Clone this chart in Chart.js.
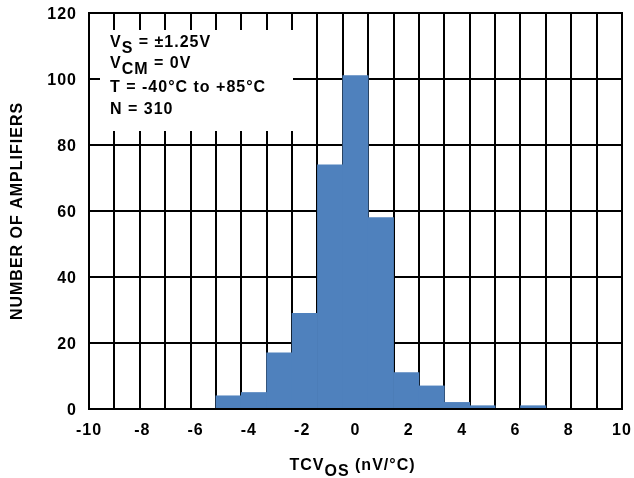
<!DOCTYPE html>
<html>
<head>
<meta charset="utf-8">
<script src="https://cdn.jsdelivr.net/npm/chart.js@4/dist/chart.umd.min.js"></script>
<style>
  html, body { margin: 0; padding: 0; background: #fff; }
  #c { display: block; }
</style>
</head>
<body>
<canvas id="c" width="634" height="478"></canvas>
<script>
// Histogram bins (bin centre, nV/°C) and amplifier counts per bin
const binCenters = [-10, -9, -8, -7, -6, -5, -4, -3, -2, -1, 0, 1, 2, 3, 4, 5, 6, 7, 8, 9, 10];
const counts     = [  0,  0,  0,  0,  0,  4,  5, 17, 29, 74, 101, 58, 11, 7, 2, 1, 0, 1, 0, 0, 0];

// Axis tick labels
const xTickValues = [-10, -8, -6, -4, -2, 0, 2, 4, 6, 8, 10];
const yTickValues = [0, 20, 40, 60, 80, 100, 120];

// Test conditions legend (segments flagged "sub" are subscripts)
const conditionLines = [
  [{ t: 'V' }, { t: 'S', sub: true }, { t: ' = ±1.25V' }],
  [{ t: 'V' }, { t: 'CM', sub: true }, { t: ' = 0V' }],
  [{ t: 'T = -40°C to +85°C' }],
  [{ t: 'N = 310' }]
];
const xTitle = [{ t: 'TCV' }, { t: 'OS', sub: true }, { t: ' (nV/°C)' }];
const yTitle = 'NUMBER OF AMPLIFIERS';

const FONT = '"Liberation Sans", Arial, Helvetica, sans-serif';
const BAR_COLOR = '#4F81BD';

function drawRich(ctx, segments, x, y, align) {
  let total = 0;
  segments.forEach(s => { total += ctx.measureText(s.t).width; });
  let cx = align === 'center' ? x - total / 2 : x;
  ctx.textAlign = 'left';
  ctx.textBaseline = 'alphabetic';
  segments.forEach(s => {
    ctx.fillText(s.t, cx, y + (s.sub ? 6 : 0));
    cx += ctx.measureText(s.t).width;
  });
}

const annotations = {
  id: 'annotations',
  beforeDraw(chart) {
    chart.ctx.letterSpacing = '1px';
  },
  beforeDatasetsDraw(chart) {
    const { ctx, chartArea: a } = chart;
    ctx.save();
    // white panel for the test conditions
    ctx.fillStyle = '#fff';
    ctx.fillRect(a.left + 11, a.top + 17, 193, 101);
    ctx.fillStyle = '#000';
    ctx.font = 'bold 16px ' + FONT;
    ctx.letterSpacing = '1px';
    const baselines = [34, 55, 79, 101];
    conditionLines.forEach((line, i) => drawRich(ctx, line, a.left + 21, a.top + baselines[i], 'left'));
    ctx.restore();
  },
  afterDatasetsDraw(chart) {
    const { ctx, chartArea: a } = chart;
    ctx.save();
    ctx.strokeStyle = '#000';
    ctx.lineWidth = 2;
    ctx.strokeRect(a.left, a.top, a.right - a.left, a.bottom - a.top);
    ctx.restore();
  },
  afterDraw(chart) {
    const { ctx, chartArea: a } = chart;
    ctx.save();
    ctx.fillStyle = '#000';
    ctx.font = 'bold 16px ' + FONT;
    ctx.letterSpacing = '1px';
    drawRich(ctx, xTitle, (a.left + a.right) / 2 - 3, 470, 'center');
    ctx.restore();
  }
};

const tickFont = { family: FONT, size: 16, weight: 'bold' };

new Chart(document.getElementById('c'), {
  type: 'bar',
  data: {
    labels: binCenters.map(String),
    datasets: [{
      data: counts,
      backgroundColor: BAR_COLOR,
      borderWidth: 0,
      barPercentage: 1,
      categoryPercentage: 1,
      xAxisID: 'x',
      yAxisID: 'y'
    }]
  },
  options: {
    responsive: false,
    animation: false,
    events: [],
    layout: { padding: { top: 13, right: 12, left: 0, bottom: 0 } },
    plugins: { legend: { display: false }, tooltip: { enabled: false } },
    scales: {
      x: {
        type: 'category',
        position: 'bottom',
        offset: true,
        grid: { offset: true, color: '#000', lineWidth: 2, drawTicks: false },
        border: { display: true, color: '#000', width: 2 },
        ticks: { display: false },
        afterFit(s) { s.height = 0; s.paddingLeft = 0; s.paddingRight = 0; }
      },
      xv: {
        type: 'linear',
        position: 'bottom',
        offset: false,
        min: -10,
        max: 10,
        afterBuildTicks(s) { s.ticks = xTickValues.map(v => ({ value: v })); },
        grid: { display: false, drawTicks: false, offset: false },
        border: { display: false },
        ticks: { color: '#000', font: tickFont, padding: 12, maxRotation: 0, autoSkip: false },
        afterFit(s) { s.height = 69; s.paddingLeft = 0; s.paddingRight = 0; }
      },
      y: {
        min: 0,
        max: 120,
        afterBuildTicks(s) { s.ticks = yTickValues.map(v => ({ value: v })); },
        grid: { color: '#000', lineWidth: 2, drawTicks: false },
        border: { display: true, color: '#000', width: 2 },
        ticks: { color: '#000', font: tickFont, padding: 12, labelOffset: 2 },
        title: {
          display: true,
          text: yTitle,
          color: '#000',
          font: { family: FONT, size: 16, weight: 'bold' },
          padding: { top: 8, bottom: 0 }
        },
        afterFit(s) { s.width = 89; s.paddingTop = 0; s.paddingBottom = 0; }
      }
    }
  },
  plugins: [annotations]
});
</script>
</body>
</html>
